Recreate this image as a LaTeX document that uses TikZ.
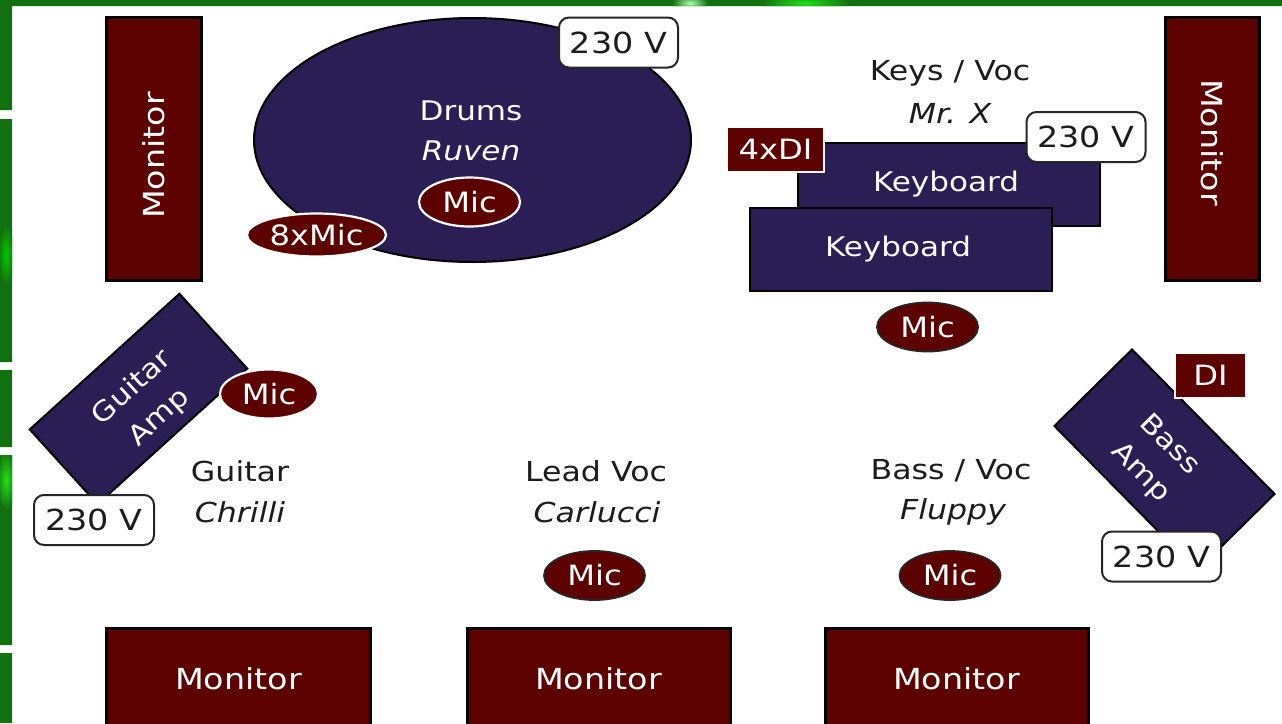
\documentclass[tikz,border=0pt]{standalone}
\usepackage{fontspec}
\setmainfont[FakeStretch=1.15]{DejaVu Sans}
\usetikzlibrary{shapes.geometric}
\definecolor{mred}{HTML}{5C0000}
\definecolor{navy}{HTML}{2A1E54}
\definecolor{grn}{HTML}{12700E}
\definecolor{brightgrn}{HTML}{22E01A}
\definecolor{txt}{HTML}{1C1C1C}
\tikzset{
  stagefont/.style={font=\fontsize{27}{32}\selectfont},
  monitorbox/.style={draw=black, line width=3pt, fill=mred, text=white, inner sep=0pt,
    font=\fontsize{29}{34}\selectfont},
  instrbox/.style={draw=black, line width=2pt, fill=navy, text=white, inner sep=0pt,
    align=center, stagefont},
  micbase/.style={ellipse, fill=mred, text=white, inner sep=0pt,
    minimum width=101pt, minimum height=49pt, font=\fontsize{28}{32}\selectfont},
  micwhite/.style={micbase, draw=white, line width=2.2pt},
  micdark/.style={micbase, draw=black!85, line width=1.8pt},
  dibox/.style={fill=mred, draw=white, line width=2.2pt, text=white, inner sep=0pt,
    font=\fontsize{28}{32}\selectfont},
  powerbox/.style={draw=black!85, line width=2pt, rounded corners=10pt, fill=white,
    text=txt, inner sep=0pt, minimum width=119pt, minimum height=50pt,
    font=\fontsize{29}{32}\selectfont},
  lbl/.style={text=txt, inner sep=0pt, font=\fontsize{27.5}{32}\selectfont},
  lblw/.style={text=white, inner sep=0pt, stagefont},
  amplbl/.style={text=white, inner sep=0pt, align=center, font=\fontsize{27}{40}\selectfont},
}
\begin{document}
\begin{tikzpicture}[x=1pt,y=-1pt]
\useasboundingbox (0,0) rectangle (1282,723);
\clip (0,0) rectangle (1282,723);
\fill[white] (0,0) rectangle (1282,723);
% green frame strips
\begin{scope}
  \clip (0,0) rectangle (1282,6) (0,0) rectangle (12,110) (0,119) rectangle (12,362)
        (0,370) rectangle (12,447) (0,455) rectangle (12,645) (0,653) rectangle (12,723);
  \fill[grn] (0,0) rectangle (1282,723);
  \shade[inner color=brightgrn, outer color=grn] (805,3) ellipse (45 and 10);
  \shade[inner color=green!30!white, outer color=grn] (690,3) ellipse (18 and 8);
  \shade[inner color=brightgrn, outer color=grn] (6,480) ellipse (10 and 30);
  \shade[inner color=green!60!grn, outer color=grn] (6,255) ellipse (8 and 30);
\end{scope}

% monitors
\node[monitorbox, rotate=90, minimum width=263pt, minimum height=95pt] (monL) at (154,149) {Monitor\hspace*{13pt}};
\node[monitorbox, rotate=-90, minimum width=263pt, minimum height=94pt] (monR) at (1212.5,149) {Monitor\hspace*{13pt}};
\node[monitorbox, minimum width=264pt, minimum height=100pt] (monB1) at (238.5,678.5) {Monitor};
\node[monitorbox, minimum width=263pt, minimum height=100pt] (monB2) at (598.5,678.5) {Monitor};
\node[monitorbox, minimum width=263pt, minimum height=100pt] (monB3) at (956.5,678.5) {Monitor};

% drums
\node[ellipse, draw=black, line width=2pt, fill=navy, inner sep=0pt,
      minimum width=437pt, minimum height=244pt] (drums) at (472.5,140) {};
\node[lblw] (drumsname) at (471,111) {Drums};
\node[lblw] (drumsplayer) at (471,151) {\itshape Ruven};
\node[powerbox] (drumspower) at (618.5,42.5) {230 V};
\node[micwhite] (drumsmic) at (469.5,202) {Mic};
\node[micwhite, minimum width=139pt, minimum height=43pt] (drumsmics) at (316.5,235) {8xMic};

% keys
\node[lbl] (keysname) at (950,73) {Keys / Voc};
\node[lbl] (keysplayer) at (950,113) {\itshape Mr. X};
\node[instrbox, minimum width=302pt, minimum height=83pt] (kbback) at (949,184.5) {\hspace*{-6pt}Keyboard};
\node[instrbox, minimum width=302pt, minimum height=83pt] (kbfront) at (901,249.5) {\hspace*{-6pt}Keyboard};
\node[dibox, minimum width=97pt, minimum height=45pt] (keysdi) at (775.5,149.5) {4xDI};
\node[powerbox] (keyspower) at (1086,137) {230 V};
\node[micdark] (keysmic) at (927.5,327) {Mic};

% guitar
\node[instrbox, rotate=42.2, minimum width=202pt, minimum height=101pt] (gtramp) at (138.5,399) {};
\node[amplbl, rotate=42.2] (gtramplbl) at (146,403) {Guitar\\Amp};
\node[micwhite, minimum width=98pt] (gtrmic) at (269,394) {Mic};
\node[powerbox, minimum width=120pt] (gtrpower) at (94,520) {230 V};
\node[lbl] (gtrname) at (240,471) {Guitar};
\node[lbl] (gtrplayer) at (240,512) {\itshape Chrilli};

% lead voc
\node[lbl] (leadname) at (596,471) {Lead Voc};
\node[lbl] (leadplayer) at (597,512) {\itshape Carlucci};
\node[micdark] (leadmic) at (594.5,575.5) {Mic};

% bass
\node[lbl] (bassname) at (951,471) {Bass / Voc};
\node[lbl] (bassplayer) at (953,512) {\itshape Fluppy};
\node[micdark] (bassmic) at (950,575.5) {Mic};
\node[instrbox, rotate=-45.4, minimum width=203pt, minimum height=109pt] (bassamp) at (1164.5,460) {};
\node[amplbl, rotate=-45.4] (bassamplbl) at (1155,459) {Bass\\Amp};
\node[dibox, minimum width=71pt, minimum height=45pt] (bassdi) at (1210.5,375.5) {DI};
\node[powerbox] (basspower) at (1161.5,556.5) {230 V};
\end{tikzpicture}
\end{document}
